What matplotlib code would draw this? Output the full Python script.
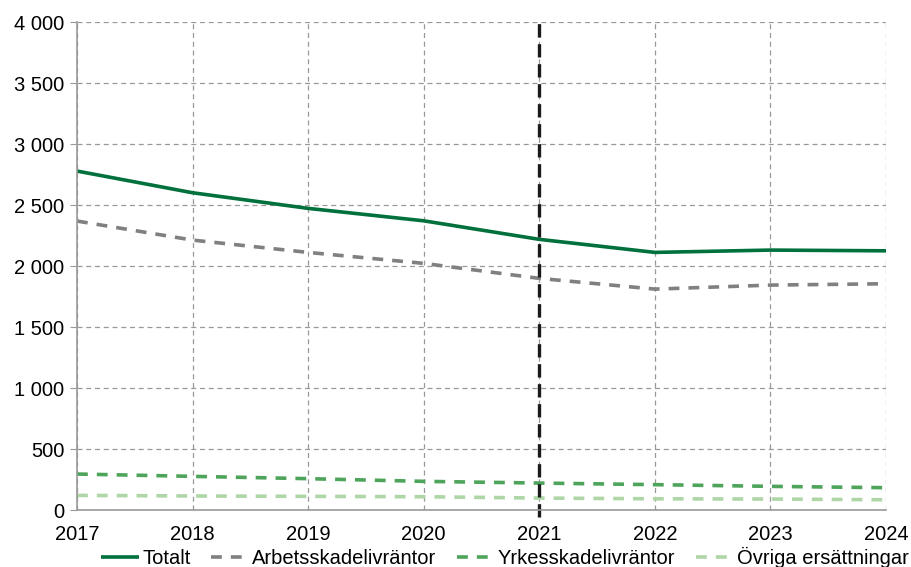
import matplotlib.pyplot as plt
from matplotlib.ticker import FuncFormatter

plt.rcParams['font.family'] = ['Liberation Sans', 'DejaVu Sans']

years = [2017, 2018, 2019, 2020, 2021, 2022, 2023, 2024]
totalt = [2779, 2601, 2473, 2371, 2219, 2112, 2131, 2125]
arbetsskade = [2369, 2213, 2112, 2022, 1899, 1811, 1844, 1855]
yrkesskade = [295, 276, 257, 235, 221, 208, 194, 183]
ovriga = [120, 115, 112, 109, 98, 92, 90, 84]
split_year = 2021

fig = plt.figure(figsize=(9.12, 5.67), dpi=100)
ax = fig.add_axes([0.0844, 0.1005, 0.8871, 0.8605])

ax.plot(years, totalt, color='#00703c', lw=2.6, label='Totalt', solid_capstyle='butt')
ax.plot(years, arbetsskade, color='#808080', lw=2.6, ls=(0, (3, 2.5)), label='Arbetsskadelivräntor')
ax.plot(years, yrkesskade, color='#4ea45a', lw=2.6, ls=(0, (3, 2.5)), label='Yrkesskadelivräntor')
ax.plot(years, ovriga, color='#aed6a6', lw=2.6, ls=(0, (3, 2.5)), label='Övriga ersättningar')

ax.axvline(split_year, ymin=-0.015, ymax=1, color='#1a1a1a', lw=2.4, ls=(0, (4, 2)), clip_on=False)

ax.set_xlim(2017, 2024)
ax.set_ylim(0, 4000)
ax.set_xticks(years)
ax.set_yticks(range(0, 4001, 500))
ax.yaxis.set_major_formatter(FuncFormatter(lambda v, p: f'{int(v):,}'.replace(',', ' ')))

ax.grid(True, color='#999999', ls=(0, (4, 3)), lw=0.9)
ax.set_axisbelow(True)
for s in ['top', 'right']:
    ax.spines[s].set_visible(False)
for s in ['left', 'bottom']:
    ax.spines[s].set_color('#999999')
    ax.spines[s].set_linewidth(1.2)

ax.tick_params(axis='y', length=5, color='#999999', labelsize=14.5, pad=4)
ax.tick_params(axis='x', length=0, labelsize=14.5, pad=11)

ax.legend(loc='center', bbox_to_anchor=(0.529, -0.097), ncol=4, frameon=False,
          fontsize=14.5, handlelength=1.9, handletextpad=0.15, columnspacing=1.0,
          borderaxespad=0, borderpad=0)

fig.savefig('out.png', dpi=100)
